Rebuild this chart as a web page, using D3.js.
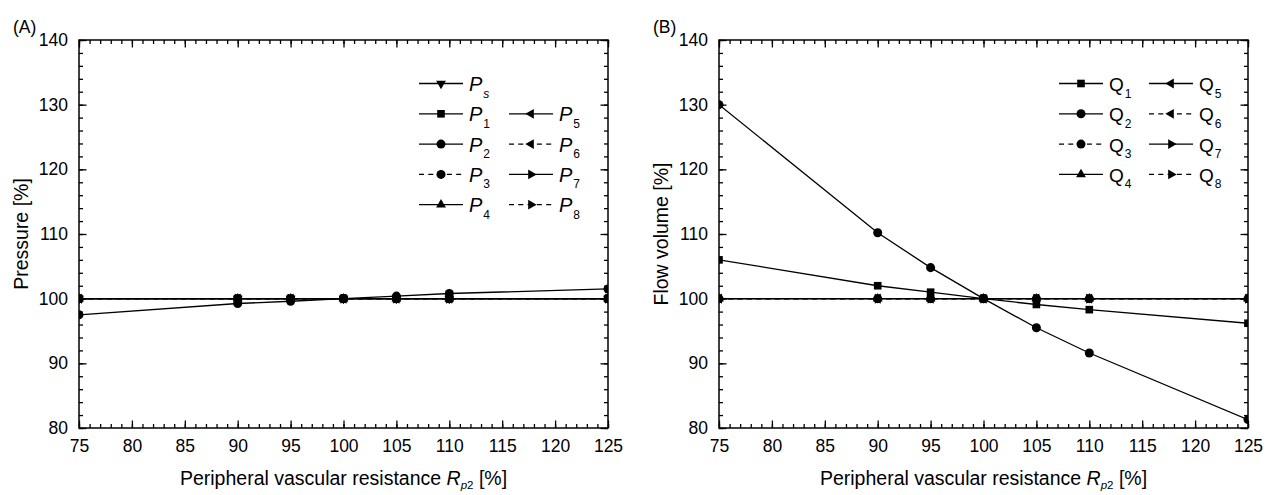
<!DOCTYPE html>
<html>
<head>
<meta charset="utf-8">
<script src="https://cdn.jsdelivr.net/npm/d3@7/dist/d3.min.js"></script>
<style>
  body { margin: 0; background: #fff; }
  text { font-family: "Liberation Sans", Arial, Helvetica, sans-serif; fill: #000; }
</style>
</head>
<body>
<svg id="chart" width="1273" height="495"></svg>
<script>
// Peripheral vascular resistance R_p2 [%] (x values of every series)
const resistance = [75, 90, 95, 100, 105, 110, 125];

// Pressures [%]
const pS = [100, 100, 100, 100, 100, 100, 100];
const p1 = [100, 100, 100, 100, 100, 100, 100];
const p2 = [97.5, 99.25, 99.6, 100, 100.4, 100.8, 101.5];
const p3 = [100, 100, 100, 100, 100, 100, 100];
const p4 = [100, 100, 100, 100, 100, 100, 100];
const p5 = [100, 100, 100, 100, 100, 100, 100];
const p6 = [100, 100, 100, 100, 100, 100, 100];
const p7 = [100, 100, 100, 100, 100, 100, 100];
const p8 = [100, 100, 100, 100, 100, 100, 100];

// Flow volumes [%]
const q1 = [106, 102, 101, 100, 99.1, 98.3, 96.2];
const q2 = [130, 110.2, 104.8, 100, 95.5, 91.6, 81.3];
const q3 = [100, 100, 100, 100, 100, 100, 100];
const q4 = [100, 100, 100, 100, 100, 100, 100];
const q5 = [100, 100, 100, 100, 100, 100, 100];
const q6 = [100, 100, 100, 100, 100, 100, 100];
const q7 = [100, 100, 100, 100, 100, 100, 100];
const q8 = [100, 100, 100, 100, 100, 100, 100];

// Axis ticks
const xTicks = [75, 80, 85, 90, 95, 100, 105, 110, 115, 120, 125];
const xMinorTicks = d3.range(75, 126, 1);
const yTicks = [80, 90, 100, 110, 120, 130, 140];
const yMinorTicks = d3.range(80, 141, 2);

const svg = d3.select("#chart");
const TOP = 40, BOTTOM = 428;

// Marker symbols
const sym = {
  square:   { type: d3.symbolSquare,   size: 58, rot: 0 },
  circle:   { type: d3.symbolCircle,   size: 64, rot: 0 },
  down:     { type: d3.symbolTriangle, size: 42, rot: 180 },
  up:       { type: d3.symbolTriangle, size: 42, rot: 0 },
  left:     { type: d3.symbolTriangle, size: 42, rot: -90 },
  right:    { type: d3.symbolTriangle, size: 42, rot: 90 }
};

function marker(g, kind, x, y) {
  const s = sym[kind];
  g.append("path")
    .attr("d", d3.symbol().type(s.type).size(s.size)())
    .attr("transform", `translate(${x},${y}) rotate(${s.rot})`)
    .attr("fill", "#000");
}

function drawPanel(cfg) {
  const left = cfg.left, right = cfg.left + 529;
  const x = d3.scaleLinear().domain([75, 125]).range([left, right]);
  const y = d3.scaleLinear().domain([80, 140]).range([BOTTOM, TOP]);
  const g = svg.append("g");

  const clipId = "clip-" + cfg.id;
  svg.append("defs").append("clipPath").attr("id", clipId)
    .append("rect").attr("x", left).attr("y", TOP)
    .attr("width", right - left).attr("height", BOTTOM - TOP);

  // Series lines and markers
  const plot = g.append("g").attr("clip-path", `url(#${clipId})`);
  const line = d3.line().x((d, i) => x(resistance[i])).y(d => y(d));
  cfg.series.forEach(s => {
    plot.append("path").datum(s.values)
      .attr("d", line).attr("fill", "none").attr("stroke", "#000")
      .attr("stroke-width", 1.3)
      .attr("stroke-dasharray", s.dashed ? "5,4.3" : null);
  });
  cfg.series.forEach(s => {
    s.values.forEach((v, i) => marker(plot, s.symbol, x(resistance[i]), y(v)));
  });

  // Axes with inward ticks on all four sides
  const axisStyle = sel => {
    sel.select(".domain").remove();
    sel.selectAll(".tick line").attr("stroke", "#000").attr("stroke-width", 1.3);
    sel.selectAll(".tick text").style("font-size", "17.5px")
      .style("font-family", '"Liberation Sans", Arial, sans-serif');
  };
  g.append("g").attr("transform", `translate(0,${BOTTOM})`)
    .call(d3.axisBottom(x).tickValues(xMinorTicks).tickFormat("").tickSize(-4)).call(axisStyle);
  g.append("g").attr("transform", `translate(0,${BOTTOM})`)
    .call(d3.axisBottom(x).tickValues(xTicks).tickFormat(d3.format("d")).tickSize(-7.5).tickPadding(11.5)).call(axisStyle);
  g.append("g").attr("transform", `translate(0,${TOP})`)
    .call(d3.axisTop(x).tickValues(xMinorTicks).tickFormat("").tickSize(-4)).call(axisStyle);
  g.append("g").attr("transform", `translate(0,${TOP})`)
    .call(d3.axisTop(x).tickValues(xTicks).tickFormat("").tickSize(-7.5)).call(axisStyle);
  g.append("g").attr("transform", `translate(${left},0)`)
    .call(d3.axisLeft(y).tickValues(yMinorTicks).tickFormat("").tickSize(-4)).call(axisStyle);
  g.append("g").attr("transform", `translate(${left},0)`)
    .call(d3.axisLeft(y).tickValues(yTicks).tickFormat(d3.format("d")).tickSize(-7.5).tickPadding(11)).call(axisStyle);
  g.append("g").attr("transform", `translate(${right},0)`)
    .call(d3.axisRight(y).tickValues(yMinorTicks).tickFormat("").tickSize(-4)).call(axisStyle);
  g.append("g").attr("transform", `translate(${right},0)`)
    .call(d3.axisRight(y).tickValues(yTicks).tickFormat("").tickSize(-7.5)).call(axisStyle);

  g.append("rect").attr("x", left).attr("y", TOP)
    .attr("width", right - left).attr("height", BOTTOM - TOP)
    .attr("fill", "none").attr("stroke", "#000").attr("stroke-width", 1.5);

  // Panel letter
  g.append("text").attr("x", left - 66).attr("y", 33)
    .style("font-size", "17.5px").text(cfg.letter);

  // Y axis title
  g.append("text")
    .attr("transform", `translate(${left - 51},${(TOP + BOTTOM) / 2}) rotate(-90)`)
    .attr("text-anchor", "middle").style("font-size", "19.5px").text(cfg.yTitle);

  // X axis title
  const xt = g.append("text").attr("x", (left + right) / 2).attr("y", 485)
    .attr("text-anchor", "middle").style("font-size", "19.5px");
  xt.append("tspan").text("Peripheral vascular resistance ");
  xt.append("tspan").style("font-style", "italic").text("R");
  xt.append("tspan").style("font-style", "italic").style("font-size", "11.5px").attr("dy", 4).text("p");
  xt.append("tspan").style("font-size", "11.5px").text("2");
  xt.append("tspan").attr("dy", -4).text(" [%]");

  // Legend
  const lg = g.append("g");
  cfg.series.forEach(s => {
    const cx = left + (s.col === 0 ? 340 : 430);
    const cy = 83.5 + s.row * 30.3;
    lg.append("line").attr("x1", cx).attr("x2", cx + 44).attr("y1", cy).attr("y2", cy)
      .attr("stroke", "#000").attr("stroke-width", 1.3)
      .attr("stroke-dasharray", s.dashed ? "5,4.3" : null);
    marker(lg, s.symbol, cx + 22, cy);
    const t = lg.append("text").attr("x", cx + 50).attr("y", cy + 7.5);
    t.append("tspan").style("font-size", cfg.letterSize)
      .style("font-style", cfg.italicSymbol ? "italic" : "normal").text(cfg.symbolName);
    t.append("tspan").style("font-size", "12px").attr("dx", 1).attr("dy", 6.5)
      .style("font-style", s.sub === "s" ? "italic" : "normal").text(s.sub);
  });
}

drawPanel({
  id: "a", left: 79, letter: "(A)", yTitle: "Pressure [%]",
  symbolName: "P", italicSymbol: true, letterSize: "20px",
  series: [
    { sub: "s", values: pS, symbol: "down",   dashed: false, col: 0, row: 0 },
    { sub: "1", values: p1, symbol: "square", dashed: false, col: 0, row: 1 },
    { sub: "3", values: p3, symbol: "circle", dashed: true,  col: 0, row: 3 },
    { sub: "4", values: p4, symbol: "up",     dashed: false, col: 0, row: 4 },
    { sub: "5", values: p5, symbol: "left",   dashed: false, col: 1, row: 1 },
    { sub: "6", values: p6, symbol: "left",   dashed: true,  col: 1, row: 2 },
    { sub: "7", values: p7, symbol: "right",  dashed: false, col: 1, row: 3 },
    { sub: "8", values: p8, symbol: "right",  dashed: true,  col: 1, row: 4 },
    { sub: "2", values: p2, symbol: "circle", dashed: false, col: 0, row: 2 }
  ]
});

drawPanel({
  id: "b", left: 719, letter: "(B)", yTitle: "Flow volume [%]",
  symbolName: "Q", italicSymbol: false, letterSize: "19px",
  series: [
    { sub: "3", values: q3, symbol: "circle", dashed: true,  col: 0, row: 2 },
    { sub: "4", values: q4, symbol: "up",     dashed: false, col: 0, row: 3 },
    { sub: "5", values: q5, symbol: "left",   dashed: false, col: 1, row: 0 },
    { sub: "6", values: q6, symbol: "left",   dashed: true,  col: 1, row: 1 },
    { sub: "7", values: q7, symbol: "right",  dashed: false, col: 1, row: 2 },
    { sub: "8", values: q8, symbol: "right",  dashed: true,  col: 1, row: 3 },
    { sub: "1", values: q1, symbol: "square", dashed: false, col: 0, row: 0 },
    { sub: "2", values: q2, symbol: "circle", dashed: false, col: 0, row: 1 }
  ]
});
</script>
</body>
</html>
